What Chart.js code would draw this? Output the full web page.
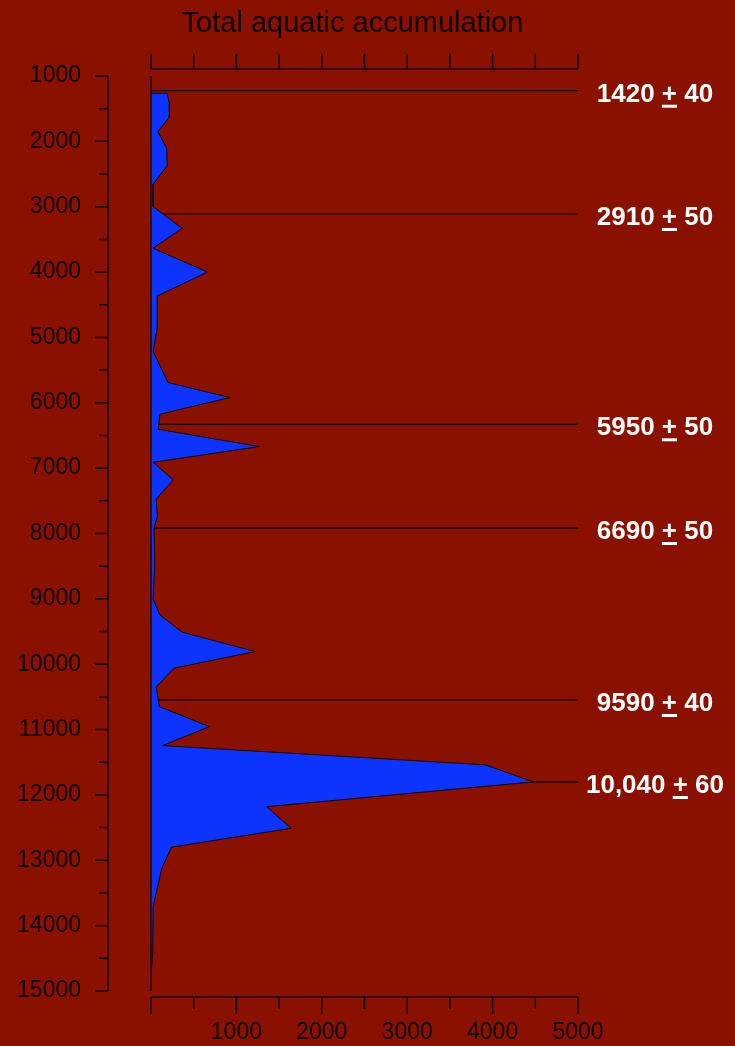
<!DOCTYPE html>
<html lang="en">
  <head>
    <meta charset="UTF-8" />
    <title>Total aquatic accumulation</title>
    <style>
      html,
      body {
        margin: 0;
        padding: 0;
        background-color: #8a1000;
      }
      .chart-container {
        position: relative;
        width: 735px;
        height: 1046px;
      }
    </style>
  </head>
  <body>
    <div class="chart-container">
      <canvas id="profileChart"></canvas>
    </div>
    <script src="https://cdn.jsdelivr.net/npm/chart.js"></script>
    <script>
      // core depth profile (depth in the core, accumulation value)
      var depths = [
        1265, 1265, 1420, 1630, 1850, 2105, 2375, 2655, 3000, 3330, 3635,
        4000, 4365, 4835, 5215, 5690, 5920, 6175, 6405, 6670, 6910, 7180,
        7475, 7740, 7920, 8455, 9005, 9245, 9510, 9805, 10060, 10350, 10650,
        10955, 11245, 11540, 11800, 12180, 12510, 12800, 13130, 13705, 14415,
        14750,
      ];
      var accumulation = [
        0, 190, 215, 215, 80, 185, 190, 25, 25, 365, 25, 660, 75, 75, 25,
        200, 925, 105, 85, 1270, 25, 260, 60, 75, 35, 45, 25, 105, 365, 1220,
        270, 60, 100, 685, 135, 3915, 4475, 1355, 1640, 240, 125, 25, 20, 0,
      ];

      // radiocarbon dated horizons
      var dateDepths = [1225, 3111, 6329, 7916, 10547, 11802];
      var dateAges = ["1420", "2910", "5950", "6690", "9590", "10,040"];
      var dateErrors = ["40", "50", "50", "50", "40", "60"];

      var depthTicks = { min: 1000, max: 15000, step: 500 };
      var valueTicks = { min: 0, max: 5000, step: 500 };

      Chart.defaults.font.family = "'Liberation Sans', Arial, sans-serif";

      var ink = "#140200";

      var datasets = [
        {
          label: "Total aquatic accumulation",
          data: depths.map(function (d, i) {
            return { x: accumulation[i], y: d };
          }),
          showLine: true,
          fill: "shape",
          backgroundColor: "#0d34ff",
          borderColor: ink,
          borderWidth: 1,
          pointRadius: 0,
          tension: 0,
        },
      ];
      dateDepths.forEach(function (d) {
        datasets.push({
          data: [
            { x: valueTicks.min, y: d },
            { x: valueTicks.max, y: d },
          ],
          showLine: true,
          fill: false,
          borderColor: ink,
          borderWidth: 1.3,
          pointRadius: 0,
        });
      });

      // axes frame, title and the date labels on the right
      var decorations = {
        id: "decorations",
        afterDatasetsDraw: function (chart) {
          var ctx = chart.ctx;
          var x = chart.scales.x;
          var y = chart.scales.y;
          var area = chart.chartArea;
          var x0 = x.getPixelForValue(valueTicks.min);
          var x1 = x.getPixelForValue(valueTicks.max);
          var yTop = y.getPixelForValue(depthTicks.min);
          var yBot = y.getPixelForValue(depthTicks.max);
          var leftAxis = x0 - 43;
          var topAxis = area.top - 7;
          var bottomAxis = area.bottom + 6;

          ctx.save();
          ctx.strokeStyle = ink;
          ctx.lineWidth = 1.5;
          ctx.beginPath();
          // zero line
          ctx.moveTo(x0, yTop);
          ctx.lineTo(x0, yBot);
          // depth axis
          ctx.moveTo(leftAxis, yTop);
          ctx.lineTo(leftAxis, yBot);
          y.ticks.forEach(function (t) {
            var py = y.getPixelForValue(t.value);
            var len = t.value % 1000 === 0 ? 13 : 9;
            ctx.moveTo(leftAxis - len, py);
            ctx.lineTo(leftAxis, py);
          });
          // top and bottom value axes
          ctx.moveTo(x0, topAxis);
          ctx.lineTo(x1, topAxis);
          ctx.moveTo(x0, bottomAxis);
          ctx.lineTo(x1, bottomAxis);
          x.ticks.forEach(function (t) {
            var px = x.getPixelForValue(t.value);
            ctx.moveTo(px, topAxis - 15);
            ctx.lineTo(px, topAxis);
            var len = t.value % 1000 === 0 ? 17 : 12;
            ctx.moveTo(px, bottomAxis);
            ctx.lineTo(px, bottomAxis + len);
          });
          ctx.stroke();

          // title
          ctx.fillStyle = "#0d0000";
          ctx.font = "29px 'Liberation Sans', Arial, sans-serif";
          ctx.textAlign = "center";
          ctx.textBaseline = "alphabetic";
          ctx.fillText("Total aquatic accumulation", (x0 + x1) / 2 - 12, 32);

          // date labels, "+" underlined as a plus-minus sign
          ctx.font = "bold 26px 'Liberation Sans', Arial, sans-serif";
          ctx.textAlign = "left";
          ctx.fillStyle = "#ffffff";
          dateDepths.forEach(function (d, i) {
            var a = dateAges[i] + " ";
            var b = " " + dateErrors[i];
            var wa = ctx.measureText(a).width;
            var wp = ctx.measureText("+").width;
            var wb = ctx.measureText(b).width;
            var left = area.right + 77 - (wa + wp + wb) / 2;
            var base = y.getPixelForValue(d) + 11;
            ctx.fillText(a, left, base);
            ctx.fillText("+", left + wa, base);
            ctx.fillText(b, left + wa + wp, base);
            ctx.fillRect(left + wa, base + 3, wp, 3);
          });
          ctx.restore();
        },
      };

      var ctxProfile = document.getElementById("profileChart").getContext("2d");
      var profileChart = new Chart(ctxProfile, {
        type: "scatter",
        data: { datasets: datasets },
        options: {
          responsive: true,
          maintainAspectRatio: false,
          animation: false,
          layout: {
            padding: { top: 76, right: 157, left: 0, bottom: 0 },
          },
          plugins: {
            legend: { display: false },
            tooltip: { enabled: false },
          },
          scales: {
            x: {
              type: "linear",
              position: "bottom",
              min: valueTicks.min,
              max: valueTicks.max,
              // invisible tick marks keep the labels clear of the axis
              grid: {
                display: true,
                drawOnChartArea: false,
                drawTicks: true,
                tickLength: 23,
                tickColor: "transparent",
              },
              border: { display: false },
              ticks: {
                stepSize: valueTicks.step,
                autoSkip: false,
                maxRotation: 0,
                padding: 5,
                color: "#0d0000",
                font: { size: 23 },
                callback: function (v) {
                  return v > 0 && v % 1000 === 0 ? String(v) : "";
                },
              },
              afterFit: function (scale) {
                scale.height = 55;
              },
            },
            y: {
              type: "linear",
              position: "left",
              reverse: true,
              min: depthTicks.min,
              max: depthTicks.max,
              grid: {
                display: true,
                drawOnChartArea: false,
                drawTicks: true,
                tickLength: 65,
                tickColor: "transparent",
              },
              border: { display: false },
              ticks: {
                stepSize: depthTicks.step,
                autoSkip: false,
                padding: 5,
                color: "#0d0000",
                font: { size: 23 },
                callback: function (v) {
                  return v % 1000 === 0 ? String(v) : "";
                },
              },
              afterFit: function (scale) {
                scale.width = 151;
              },
            },
          },
        },
        plugins: [decorations],
      });
    </script>
  </body>
</html>
